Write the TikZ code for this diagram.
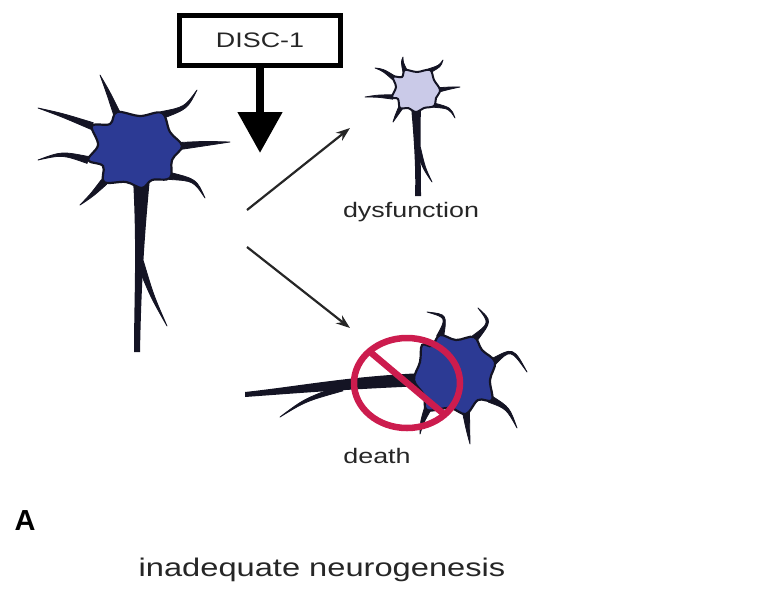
\documentclass[tikz,border=0pt]{standalone}
\usepackage{fontspec}
\usetikzlibrary{arrows.meta,calc}
\setmainfont{Liberation Sans}
\newfontfamily\widefont[FakeStretch=1.28]{Liberation Sans}

\definecolor{cellblue}{RGB}{44,58,148}
\definecolor{celllight}{RGB}{202,202,232}
\definecolor{cellline}{RGB}{20,20,36}
\definecolor{nored}{RGB}{204,28,78}

% one tapered dendrite: [half width]{base}{bend}{tip}
\newcommand{\spike}[4][3.5]{%
  \pgfmathsetmacro\sphalf{0.5*#1}%
  \filldraw[cellline, line width=0.8pt, line join=round]
    ($(#2)!#1pt!90:(#3)$) .. controls ($(#3)!\sphalf pt!90:(#4)$) .. (#4)
    .. controls ($(#3)!\sphalf pt!-90:(#4)$) .. ($(#2)!#1pt!-90:(#3)$) -- cycle;}

\tikzset{
  lab/.style={font=\widefont\fontsize{21}{21}\selectfont, text=black!85},
  thinarrow/.style={line width=2.2pt, black!85, -{Stealth[length=14pt,width=10pt]}},
  bigarrow/.style={line width=8pt, -{Triangle[length=41pt,width=43pt]}},
  soma/.style={fill=cellblue, draw=cellline, line width=2.2pt},
  lightsoma/.style={fill=celllight, draw=cellline, line width=2pt},
}

\begin{document}
\begin{tikzpicture}[x=1pt,y=-1pt]
\useasboundingbox (0,0) rectangle (759,592);

% DISC-1 and its input arrow
\node[draw, line width=4.5pt, minimum width=161pt, minimum height=50pt, lab]
  (disc) at (260,40.5) {DISC-1};
\coordinate (hit) at (260,153);
\draw[bigarrow] (disc.south) -- (hit);

% healthy neuron
\spike{117,114}{108,92}{100,75}
\spike{162,115}{186,108}{197,90}
\spike{92,126}{62,115}{38,108}
\spike{180,146}{205,143}{230,142}
\spike{88,160}{62,153}{38,160}
\spike{104,182}{92,195}{80,205}
\spike{170,176}{195,180}{205,198}
\fill[cellline] (133,178) .. controls (137,250) and (134,300) .. (134,352)
  -- (140,352) .. controls (141,300) and (143,250) .. (150,178) -- cycle;
\spike[3.5]{140,262}{152,296}{167,326}
\filldraw[soma] plot[smooth cycle, tension=0.6] coordinates {
  (117,112) (140,116) (162,113) (170,132) (182,146) (172,160) (170,178) (152,180)
  (142,188) (126,182) (104,182) (103,166) (88,160) (98,145) (92,126) (110,124)};

% the two outcomes
\coordinate (up0) at (247,210);
\coordinate (up1) at (350,128);
\coordinate (dn0) at (247,247);
\coordinate (dn1) at (350,328);
\draw[thinarrow] (up0) -- (up1);
\draw[thinarrow] (dn0) -- (dn1);

% weak neuron
\spike[2.2]{405,71}{402,62}{403,57}
\spike[2.2]{429,71}{440,66}{443,60}
\spike[2.2]{394,78}{383,70}{375,68}
\spike[2.2]{438,90}{450,88}{460,87}
\spike[2.2]{393,97}{378,96}{365,97}
\spike[2.2]{401,107}{396,116}{393,122}
\spike[2.2]{433,105}{450,108}{455,118}
\fill[cellline] (411,106) .. controls (414,140) and (416,170) .. (415,196)
  -- (421,196) .. controls (421,170) and (420,140) .. (421,106) -- cycle;
\spike[2.5]{418,148}{424,168}{432,182}
\filldraw[lightsoma] plot[smooth cycle, tension=0.6] coordinates {
  (405,70) (417,72) (430,70) (434,80) (440,90) (436,98) (434,106) (424,108)
  (416,112) (408,108) (400,108) (398,99) (392,97) (396,87) (393,77) (402,77)};
\node[lab] (dysLabel) at (411,212) {dysfunction};

% dying neuron
\spike{440,337}{447,316}{427,312}
\spike{474,339}{491,322}{478,308}
\spike{493,362}{512,348}{527,372}
\spike{490,399}{508,408}{517,428}
\spike{466,412}{468,430}{470,444}
\spike{428,408}{422,422}{420,434}
\fill[cellline] (425,373) .. controls (350,376) and (300,386) .. (245,392)
  -- (245,397) .. controls (300,393) and (350,389) .. (425,386) -- cycle;
\spike[3]{342,388}{305,400}{280,417}
\filldraw[soma] plot[smooth cycle, tension=0.6] coordinates {
  (440,335) (456,340) (474,337) (482,350) (495,362) (490,380) (492,400) (478,400)
  (466,414) (450,408) (427,410) (424,395) (414,380) (420,362) (422,345) (432,346)};
\draw[nored, line width=6.5pt] (407,383) ellipse [x radius=53, y radius=45];
\draw[nored, line width=6.5pt] (369,351) -- (445,415);
\node[lab] (deathLabel) at (377,456) {death};

% panel letter and caption
\node[font=\bfseries\fontsize{29}{29}\selectfont] (panel) at (25,521) {A};
\node[lab, font=\widefont\fontsize{25.5}{25.5}\selectfont] (caption) at (322,570)
  {inadequate neurogenesis};
\end{tikzpicture}
\end{document}
